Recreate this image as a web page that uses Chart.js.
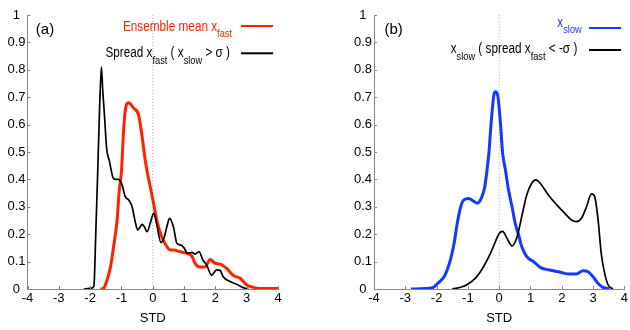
<!DOCTYPE html>
<html>
<head>
<meta charset="utf-8">
<script src="https://cdn.jsdelivr.net/npm/chart.js@4.4.0/dist/chart.umd.min.js"></script>
<style>
  html, body { margin: 0; padding: 0; background: #fff; }
  #wrap { position: relative; width: 630px; height: 330px; }
  canvas { position: absolute; top: 0; }
</style>
</head>
<body>
<div id="wrap">
  <canvas id="panelA" width="315" height="330" style="left:0"></canvas>
  <canvas id="panelB" width="315" height="330" style="left:315px"></canvas>
</div>
<script>
const xTicks = [-4, -3, -2, -1, 0, 1, 2, 3, 4];
const yTicks = [0, 0.1, 0.2, 0.3, 0.4, 0.5, 0.6, 0.7, 0.8, 0.9, 1];

// (a) ensemble mean x_fast
const meanFastX = [-1.67, -1.57, -1.46, -1.35, -1.25, -1.14, -1.07, -1.0, -0.93, -0.88, -0.77, -0.61, -0.45, -0.34, -0.24, -0.13, -0.08, 0.03, 0.13, 0.29, 0.45, 0.56, 0.66, 0.88, 1.09, 1.25, 1.35, 1.51, 1.67, 1.83, 1.99, 2.15, 2.36, 2.57, 2.79, 3.0, 3.21, 3.42, 4.0];
const meanFastY = [0, 0.003, 0.033, 0.08, 0.155, 0.25, 0.36, 0.43, 0.58, 0.65, 0.68, 0.66, 0.635, 0.556, 0.47, 0.40, 0.373, 0.31, 0.25, 0.19, 0.155, 0.142, 0.142, 0.136, 0.13, 0.12, 0.094, 0.08, 0.08, 0.108, 0.094, 0.091, 0.075, 0.05, 0.039, 0.015, 0.006, 0.002, 0.002];

// (a) spread x_fast (x_slow > sigma)
const spreadX = [-2.2, -1.95, -1.88, -1.82, -1.76, -1.70, -1.64, -1.60, -1.54, -1.47, -1.39, -1.28, -1.20, -1.09, -0.98, -0.88, -0.77, -0.66, -0.56, -0.48, -0.41, -0.34, -0.26, -0.18, -0.08, 0.03, 0.13, 0.26, 0.37, 0.45, 0.535, 0.66, 0.77, 0.90, 1.0, 1.11, 1.25, 1.35, 1.48, 1.60, 1.72, 1.88, 2.04, 2.15, 2.25, 2.47, 2.68, 2.89, 3.05];
const spreadY = [0, 0.003, 0.01, 0.2, 0.42, 0.65, 0.81, 0.73, 0.63, 0.51, 0.47, 0.41, 0.40, 0.40, 0.38, 0.337, 0.325, 0.30, 0.246, 0.215, 0.225, 0.236, 0.225, 0.209, 0.24, 0.276, 0.234, 0.17, 0.19, 0.227, 0.258, 0.227, 0.167, 0.16, 0.15, 0.13, 0.134, 0.127, 0.136, 0.106, 0.088, 0.05, 0.07, 0.068, 0.045, 0.027, 0.017, 0.005, 0];

// (b) x_slow
const slowX = [-2.82, -2.13, -1.97, -1.76, -1.66, -1.55, -1.44, -1.34, -1.23, -1.13, -0.97, -0.81, -0.70, -0.55, -0.46, -0.39, -0.33, -0.25, -0.17, -0.12, -0.05, 0.04, 0.11, 0.20, 0.30, 0.41, 0.51, 0.62, 0.72, 0.88, 1.10, 1.31, 1.57, 1.89, 2.21, 2.47, 2.68, 2.84, 3.0, 3.16, 3.32, 3.53];
const slowY = [0, 0.005, 0.02, 0.045, 0.07, 0.11, 0.167, 0.24, 0.30, 0.325, 0.33, 0.32, 0.313, 0.337, 0.373, 0.434, 0.495, 0.617, 0.708, 0.72, 0.708, 0.605, 0.495, 0.434, 0.36, 0.30, 0.24, 0.197, 0.155, 0.118, 0.10, 0.079, 0.07, 0.063, 0.055, 0.055, 0.067, 0.063, 0.045, 0.02, 0.006, 0];

// (b) x_slow (spread x_fast < -sigma)
const slowCondX = [-1.50, -1.18, -0.97, -0.76, -0.60, -0.44, -0.28, -0.12, 0.0, 0.11, 0.25, 0.41, 0.57, 0.72, 0.88, 1.04, 1.17, 1.31, 1.57, 1.84, 2.10, 2.31, 2.47, 2.63, 2.79, 2.95, 3.05, 3.16, 3.26, 3.37, 3.48, 3.63];
const slowCondY = [0, 0.008, 0.02, 0.04, 0.063, 0.094, 0.13, 0.173, 0.203, 0.21, 0.185, 0.157, 0.19, 0.264, 0.343, 0.386, 0.398, 0.386, 0.343, 0.307, 0.276, 0.252, 0.246, 0.258, 0.30, 0.347, 0.337, 0.252, 0.13, 0.057, 0.015, 0];

const FONT = "'Liberation Sans', Arial, Helvetica, sans-serif";
const RED = '#ff2200';
const BLUE = '#1438ff';
const AXIS = '#888';

function pts(xs, ys) {
  return xs.map((x, i) => ({ x: x, y: ys[i] }));
}

function zeroLine() {
  return { data: [{ x: 0, y: 0 }, { x: 0, y: 1 }], borderColor: '#aaa', borderWidth: 1, borderDash: [1, 2], order: 10 };
}

// legend row: text (with subscripts) right-aligned, then a line sample
function drawRow(ctx, row) {
  const sx = 0.84;
  let w = 0;
  row.segs.forEach(s => {
    ctx.font = (s.sub ? '11px ' : '14px ') + FONT;
    w += ctx.measureText(s.t).width;
  });
  ctx.save();
  ctx.translate(row.right - w * sx, 0);
  ctx.scale(sx, 1);
  ctx.textAlign = 'left';
  ctx.textBaseline = 'alphabetic';
  ctx.fillStyle = row.color;
  let x = 0;
  row.segs.forEach(s => {
    ctx.font = (s.sub ? '11px ' : '14px ') + FONT;
    ctx.fillText(s.t, x, s.sub ? row.base + 6.5 : row.base);
    x += ctx.measureText(s.t).width;
  });
  ctx.restore();
  ctx.strokeStyle = row.lineColor;
  ctx.lineWidth = 2;
  ctx.beginPath();
  ctx.moveTo(row.x0, row.lineY);
  ctx.lineTo(row.x1, row.lineY);
  ctx.stroke();
}

const decoPlugin = {
  id: 'deco',
  afterDraw(chart, args, opts) {
    const ctx = chart.ctx;
    const xs = chart.scales.x, ys = chart.scales.y;
    ctx.save();
    // small inward tick marks
    ctx.strokeStyle = AXIS;
    ctx.lineWidth = 1;
    ctx.beginPath();
    xTicks.forEach(v => {
      const px = Math.round(xs.getPixelForValue(v)) + 0.5;
      ctx.moveTo(px, ys.bottom);
      ctx.lineTo(px, ys.bottom - 3);
    });
    yTicks.forEach(v => {
      const py = Math.round(ys.getPixelForValue(v)) + 0.5;
      ctx.moveTo(xs.left, py);
      ctx.lineTo(xs.left + 3, py);
    });
    ctx.stroke();
    ctx.fillStyle = '#000';
    ctx.font = '15px ' + FONT;
    ctx.textAlign = 'center';
    ctx.textBaseline = 'middle';
    ctx.fillText(opts.label, opts.labelX, opts.labelY);
    opts.rows.forEach(r => drawRow(ctx, r));
    ctx.restore();
  }
};

function makePanel(id, datasets, yWidth, pad, deco) {
  return new Chart(document.getElementById(id), {
    type: 'line',
    data: { datasets: datasets },
    options: {
      responsive: false,
      animation: false,
      devicePixelRatio: 1,
      layout: { padding: pad },
      elements: {
        point: { radius: 0 },
        line: { cubicInterpolationMode: 'monotone', fill: false }
      },
      plugins: {
        legend: { display: false },
        tooltip: { enabled: false },
        deco: deco
      },
      scales: {
        x: {
          type: 'linear', min: -4, max: 4,
          ticks: { stepSize: 1, color: '#000', font: { size: 13, family: FONT }, padding: 2, maxRotation: 0, autoSkip: false },
          grid: { display: false, drawTicks: false },
          border: { display: true, color: AXIS, width: 1 },
          title: { display: true, text: 'STD', color: '#000', font: { size: 13, family: FONT }, padding: { top: 4, bottom: 4 } },
          afterFit: s => { s.height = 41; }
        },
        y: {
          type: 'linear', min: 0, max: 1,
          ticks: {
            stepSize: 0.1, color: '#000', font: { size: 13, family: FONT }, padding: 2, crossAlign: 'center',
            callback: v => String(Number(v.toFixed(1)))
          },
          grid: { display: false, drawTicks: false },
          border: { display: true, color: AXIS, width: 1 },
          afterFit: s => { s.width = yWidth; }
        }
      }
    },
    plugins: [decoPlugin]
  });
}

makePanel('panelA', [
  { data: pts(spreadX, spreadY), borderColor: '#000', borderWidth: 1.7, order: 1 },
  { data: pts(meanFastX, meanFastY), borderColor: RED, borderWidth: 3, order: 2 },
  zeroLine()
], 27.5, { left: 0, right: 37, top: 15, bottom: 0 }, {
  label: '(a)', labelX: 45, labelY: 30,
  rows: [
    { segs: [{ t: 'Ensemble mean x' }, { t: 'fast', sub: true }], color: RED, right: 232, base: 30.7, lineY: 26, x0: 241, x1: 273, lineColor: RED },
    { segs: [{ t: 'Spread x' }, { t: 'fast', sub: true }, { t: ' ( x' }, { t: 'slow', sub: true }, { t: ' > σ )' }], color: '#000', right: 230, base: 57.3, lineY: 53.3, x0: 241, x1: 273, lineColor: '#000' }
  ]
});

makePanel('panelB', [
  { data: pts(slowCondX, slowCondY), borderColor: '#000', borderWidth: 1.7, order: 1 },
  { data: pts(slowX, slowY), borderColor: BLUE, borderWidth: 3, order: 2 },
  zeroLine()
], 59, { left: 0, right: 3.5, top: 15, bottom: 0 }, {
  label: '(b)', labelX: 78.7, labelY: 30,
  rows: [
    { segs: [{ t: 'x' }, { t: 'slow', sub: true }], color: BLUE, right: 266.7, base: 26.7, lineY: 28, x0: 274, x1: 306, lineColor: BLUE },
    { segs: [{ t: 'x' }, { t: 'slow', sub: true }, { t: ' ( spread x' }, { t: 'fast', sub: true }, { t: ' < -σ )' }], color: '#000', right: 262.3, base: 53.3, lineY: 50, x0: 274, x1: 306, lineColor: '#000' }
  ]
});
</script>
</body>
</html>
